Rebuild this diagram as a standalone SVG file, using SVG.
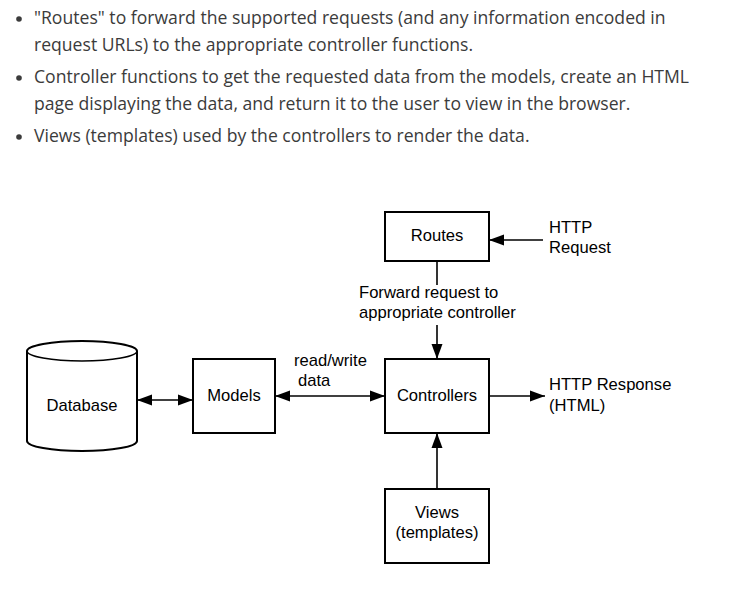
<svg xmlns="http://www.w3.org/2000/svg" width="730" height="596" viewBox="0 0 730 596">
<style>
.bt{font-family:"Open Sans","Noto Sans",sans-serif;font-size:17.6px;fill:#3b3b3b}
.t{font-family:"Liberation Sans",Arial,sans-serif;font-size:16.6px;fill:#000}
.box{fill:#fff;stroke:#000;stroke-width:2}
.ln{fill:none;stroke:#000;stroke-width:1.6}
</style>
<defs>
<marker id="ah" markerUnits="userSpaceOnUse" markerWidth="16" markerHeight="12" refX="15" refY="6" orient="auto-start-reverse">
<path d="M0,0.5 L15,6 L0,11.5 z" fill="#000"/>
</marker>
</defs>
<rect width="730" height="596" fill="#fff"/>
<g id="bullets">
<circle cx="19" cy="19" r="2.8" fill="#3b3b3b"/>
<circle cx="19" cy="78" r="2.8" fill="#3b3b3b"/>
<circle cx="19" cy="137" r="2.8" fill="#3b3b3b"/>
<text class="bt" x="34" y="24">"Routes" to forward the supported requests (and any information encoded in</text>
<text class="bt" x="34" y="51">request URLs) to the appropriate controller functions.</text>
<text class="bt" x="34" y="83">Controller functions to get the requested data from the models, create an HTML</text>
<text class="bt" x="34" y="110">page displaying the data, and return it to the user to view in the browser.</text>
<text class="bt" x="34" y="142">Views (templates) used by the controllers to render the data.</text>
</g>
<g id="connectors">
<line class="ln" x1="543" y1="240" x2="489" y2="240" marker-end="url(#ah)"/>
<line class="ln" x1="437" y1="261" x2="437" y2="285"/>
<line class="ln" x1="437" y1="325" x2="437" y2="359" marker-end="url(#ah)"/>
<line class="ln" x1="137" y1="400" x2="193" y2="400" marker-start="url(#ah)" marker-end="url(#ah)"/>
<line class="ln" x1="275" y1="396" x2="385" y2="396" marker-start="url(#ah)" marker-end="url(#ah)"/>
<line class="ln" x1="489" y1="396" x2="545" y2="396" marker-end="url(#ah)"/>
<line class="ln" x1="437" y1="489" x2="437" y2="433" marker-end="url(#ah)"/>
<text class="t" x="359" y="298">Forward request to</text>
<text class="t" x="359" y="318">appropriate controller</text>
<text class="t" x="294" y="366">read/write</text>
<text class="t" x="298" y="386">data</text>
<text class="t" x="549" y="233">HTTP</text>
<text class="t" x="549" y="253">Request</text>
<text class="t" x="549" y="390">HTTP Response</text>
<text class="t" x="549" y="411">(HTML)</text>
</g>
<g id="routes">
<rect class="box" x="385" y="212" width="104" height="49"/>
<text class="t" x="437" y="241" text-anchor="middle">Routes</text>
</g>
<g id="controllers">
<rect class="box" x="385" y="359" width="104" height="74"/>
<text class="t" x="437" y="401" text-anchor="middle">Controllers</text>
</g>
<g id="models">
<rect class="box" x="193" y="359" width="82" height="74"/>
<text class="t" x="234" y="401" text-anchor="middle">Models</text>
</g>
<g id="views">
<rect class="box" x="385" y="489" width="104" height="74"/>
<text class="t" x="437" y="518" text-anchor="middle">Views</text>
<text class="t" x="437" y="538" text-anchor="middle">(templates)</text>
</g>
<g id="database">
<path class="box" d="M27,351 L27,441 A55,10 0 0 0 137,441 L137,351 A55,10 0 0 0 27,351 Z"/>
<path class="ln" stroke-width="2" d="M27,351 A55,10 0 0 0 137,351"/>
<text class="t" x="82" y="411" text-anchor="middle">Database</text>
</g>
</svg>
